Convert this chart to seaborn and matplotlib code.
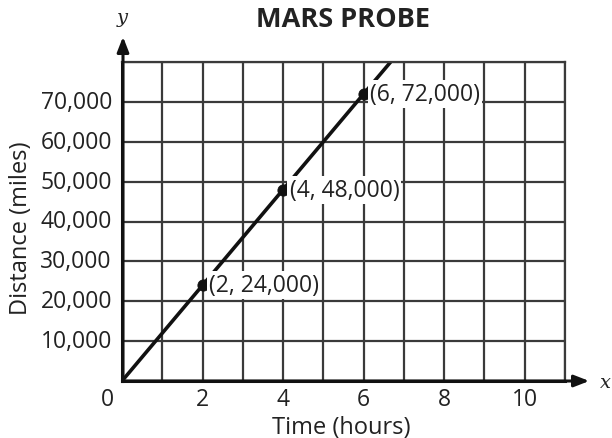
import matplotlib
matplotlib.use("Agg")
import matplotlib.pyplot as plt
import seaborn as sns
import pandas as pd

# data
hours = [0, 2, 4, 6, 6.67]
miles = [0, 24000, 48000, 72000, 80000]
point_hours = [2, 4, 6]
point_miles = [24000, 48000, 72000]
point_labels = ["(2, 24,000)", "(4, 48,000)", "(6, 72,000)"]
x_ticks = [0, 2, 4, 6, 8, 10]
y_ticks = [10000, 20000, 30000, 40000, 50000, 60000, 70000]

line_df = pd.DataFrame({"hours": hours, "miles": miles})
pts_df = pd.DataFrame({"hours": point_hours, "miles": point_miles})

sns.set_style("white")
plt.rcParams["font.family"] = ["Open Sans", "DejaVu Sans"]

fig = plt.figure(figsize=(6.12, 4.39), dpi=100)
ax = fig.add_axes([122 / 612, 1 - 382 / 439, (565 - 122) / 612, (382 - 63) / 439])

ax.set_xlim(0, 11)
ax.set_ylim(0, 80000)

# grid every 1 hour / 10,000 miles
ax.set_xticks(range(0, 12))
ax.set_yticks(range(0, 80001, 10000))
ax.grid(True, color="#3a3a3a", linewidth=1.6)
ax.set_axisbelow(True)
for s in ax.spines.values():
    s.set_color("#3a3a3a")
    s.set_linewidth(1.6)
ax.spines["left"].set_color("#111111")
ax.spines["bottom"].set_color("#111111")
ax.spines["left"].set_linewidth(2.2)
ax.spines["bottom"].set_linewidth(2.2)
ax.tick_params(length=0, labelbottom=False, labelleft=False)

sns.lineplot(data=line_df, x="hours", y="miles", ax=ax, color="#111111",
             linewidth=2.6)
sns.scatterplot(data=pts_df, x="hours", y="miles", ax=ax, color="#111111",
                s=65, edgecolor="#111111", zorder=5)

for hx, my, lab in zip(point_hours, point_miles, point_labels):
    ax.text(hx + 0.16, my, lab, fontsize=16.5, va="center", ha="left",
            color="#222222", zorder=6,
            bbox=dict(facecolor="white", edgecolor="none", pad=1.5))

# tick labels
for xt in x_ticks:
    xo = -0.37 if xt == 0 else 0
    ax.text(xt + xo, -4600, str(xt), fontsize=16.5, ha="center", va="center",
            color="#222222", clip_on=False)
for yt in y_ticks:
    ax.text(-0.25, yt, f"{yt:,}", fontsize=16.5, ha="right", va="center",
            color="#222222", clip_on=False)

ax.set_xlabel("")
ax.set_ylabel("")

# axis arrows
ax.annotate("", xy=(592 / 612, 1 - 382 / 439), xytext=(122 / 612, 1 - 382 / 439),
            xycoords="figure fraction",
            arrowprops=dict(arrowstyle="-|>,head_length=0.9,head_width=0.35",
                            color="#111111", lw=2.2))
ax.annotate("", xy=(123 / 612, 1 - 35 / 439), xytext=(123 / 612, 1 - 382 / 439),
            xycoords="figure fraction",
            arrowprops=dict(arrowstyle="-|>,head_length=0.9,head_width=0.35",
                            color="#111111", lw=2.2))

fig.text(605 / 612, 1 - 383 / 439, "x", fontsize=14, style="italic",
         family="DejaVu Serif", ha="center", va="center", color="#222222")
fig.text(122 / 612, 1 - 18 / 439, "y", fontsize=14, style="italic",
         family="DejaVu Serif", ha="center", va="center", color="#222222")

fig.text(343 / 612, 1 - 20 / 439, "MARS PROBE", fontsize=19.5, fontweight="bold",
         ha="center", va="center", color="#222222")
fig.text(341 / 612, 1 - 428 / 439, "Time (hours)", fontsize=17,
         ha="center", va="center", color="#222222")
fig.text(21 / 612, 1 - 228 / 439, "Distance (miles)", fontsize=17, rotation=90,
         ha="center", va="center", color="#222222")

fig.savefig("out.png", dpi=100)
